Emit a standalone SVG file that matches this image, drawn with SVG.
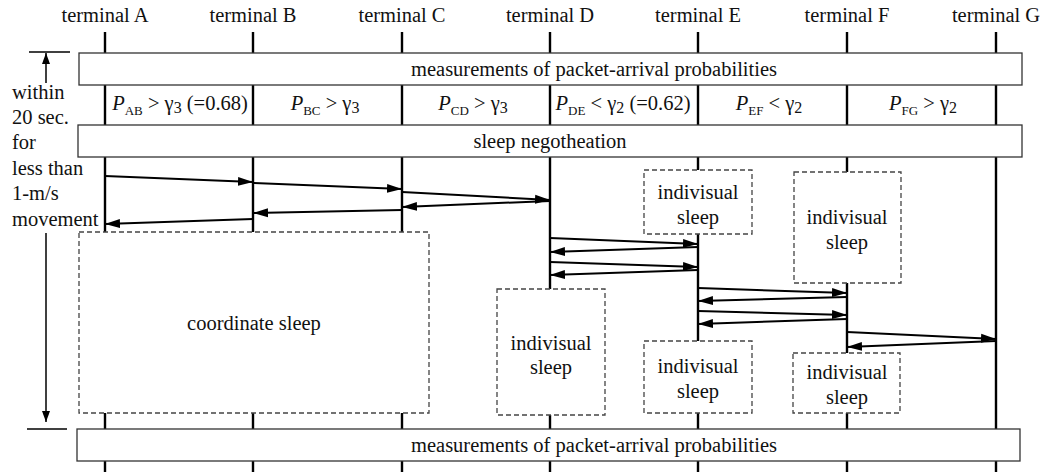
<svg xmlns="http://www.w3.org/2000/svg" width="1043" height="472" viewBox="0 0 1043 472" font-family="'Liberation Serif', 'Times New Roman', serif">
  <style>
    text { font-family: "Liberation Serif", "Times New Roman", serif; font-size: 20.5px; fill: #111; }
    .mid { text-anchor: middle; }
    .lane { stroke: #000; stroke-width: 2.4; fill: none; }
    .band { fill: #fff; stroke: #333; stroke-width: 1.3; }
    .sleep { fill: #fff; stroke: #444; stroke-width: 1.3; stroke-dasharray: 5 3; }
    .msg { stroke: #000; stroke-width: 2; fill: none; marker-end: url(#head); }
    .tick { stroke: #000; stroke-width: 1.3; fill: none; }
    .span { stroke: #000; stroke-width: 1.5; fill: none; marker-end: url(#small); }
    .sub { font-size: 13px; }
    .idx { font-size: 16px; }
  </style>
  <defs>
    <marker id="head" markerUnits="userSpaceOnUse" markerWidth="16" markerHeight="10" refX="15" refY="5" orient="auto">
      <path d="M0,0.5 L15,5 L0,9.5 Z" fill="#000"/>
    </marker>
    <marker id="small" markerUnits="userSpaceOnUse" markerWidth="12" markerHeight="8" refX="11" refY="4" orient="auto">
      <path d="M0,0 L11,4 L0,8 Z" fill="#000"/>
    </marker>
  </defs>

  <!-- terminal lifelines -->
  <g id="terminals">
    <text class="mid" x="105" y="22">terminal A</text>
    <text class="mid" x="253" y="22">terminal B</text>
    <text class="mid" x="402" y="22">terminal C</text>
    <text class="mid" x="550" y="22">terminal D</text>
    <text class="mid" x="698" y="22">terminal E</text>
    <text class="mid" x="847" y="22">terminal F</text>
    <text class="mid" x="996" y="22">terminal G</text>
    <line class="lane" x1="105" y1="32" x2="105" y2="472"/>
    <line class="lane" x1="253" y1="32" x2="253" y2="472"/>
    <line class="lane" x1="402" y1="32" x2="402" y2="472"/>
    <line class="lane" x1="550" y1="32" x2="550" y2="472"/>
    <line class="lane" x1="698" y1="32" x2="698" y2="472"/>
    <line class="lane" x1="847" y1="32" x2="847" y2="472"/>
    <line class="lane" x1="996" y1="32" x2="996" y2="472"/>
  </g>

  <!-- time span on the left -->
  <g id="timespan">
    <line class="tick" x1="29" y1="52" x2="70" y2="52"/>
    <line class="span" x1="46" y1="83" x2="46" y2="53"/>
    <line class="span" x1="46" y1="233" x2="46" y2="422"/>
    <line class="tick" x1="27" y1="429" x2="67" y2="429"/>
    <text x="12" y="99">within</text>
    <text x="12" y="124">20 sec.</text>
    <text x="12" y="149">for</text>
    <text x="12" y="175">less than</text>
    <text x="12" y="200">1-m/s</text>
    <text x="12" y="226">movement</text>
  </g>

  <g id="measure-top">
    <rect class="band" x="79" y="53" width="943" height="32"/>
    <text class="mid" x="594" y="76">measurements of packet-arrival probabilities</text>
  </g>

  <!-- link conditions between neighbouring terminals -->
  <g id="conditions">
    <text class="mid" x="180" y="110"><tspan font-style="italic">P</tspan><tspan class="sub" dy="5">AB</tspan><tspan dy="-5"> &gt; γ</tspan><tspan class="idx" dy="3">3</tspan><tspan dy="-3"> (=0.68)</tspan></text>
    <text class="mid" x="325" y="110"><tspan font-style="italic">P</tspan><tspan class="sub" dy="5">BC</tspan><tspan dy="-5"> &gt; γ</tspan><tspan class="idx" dy="3">3</tspan></text>
    <text class="mid" x="473" y="110"><tspan font-style="italic">P</tspan><tspan class="sub" dy="5">CD</tspan><tspan dy="-5"> &gt; γ</tspan><tspan class="idx" dy="3">3</tspan></text>
    <text class="mid" x="623" y="110"><tspan font-style="italic">P</tspan><tspan class="sub" dy="5">DE</tspan><tspan dy="-5"> &lt; γ</tspan><tspan class="idx" dy="3">2</tspan><tspan dy="-3"> (=0.62)</tspan></text>
    <text class="mid" x="769" y="110"><tspan font-style="italic">P</tspan><tspan class="sub" dy="5">EF</tspan><tspan dy="-5"> &lt; γ</tspan><tspan class="idx" dy="3">2</tspan></text>
    <text class="mid" x="923" y="110"><tspan font-style="italic">P</tspan><tspan class="sub" dy="5">FG</tspan><tspan dy="-5"> &gt; γ</tspan><tspan class="idx" dy="3">2</tspan></text>
  </g>

  <g id="negotiation">
    <rect class="band" x="78" y="125" width="944" height="32"/>
    <text class="mid" x="550" y="148">sleep negotheation</text>
  </g>

  <g id="coordinate-sleep">
    <rect class="sleep" x="79" y="232" width="350" height="181"/>
    <text class="mid" x="254" y="330">coordinate sleep</text>
  </g>

  <g id="sleep-D">
    <rect class="sleep" x="497" y="289" width="108" height="126"/>
    <text class="mid" x="551" y="350">indivisual</text>
    <text class="mid" x="551" y="374">sleep</text>
  </g>

  <g id="sleep-E-top">
    <rect class="sleep" x="644" y="170" width="108" height="64"/>
    <text class="mid" x="698" y="199">indivisual</text>
    <text class="mid" x="698" y="224">sleep</text>
  </g>

  <g id="sleep-E-bottom">
    <rect class="sleep" x="644" y="341" width="108" height="72"/>
    <text class="mid" x="698" y="373">indivisual</text>
    <text class="mid" x="698" y="398">sleep</text>
  </g>

  <g id="sleep-F-top">
    <rect class="sleep" x="794" y="172" width="107" height="111"/>
    <text class="mid" x="847" y="224">indivisual</text>
    <text class="mid" x="847" y="249">sleep</text>
  </g>

  <g id="sleep-F-bottom">
    <rect class="sleep" x="793" y="353" width="107" height="60"/>
    <text class="mid" x="847" y="379">indivisual</text>
    <text class="mid" x="847" y="404">sleep</text>
  </g>

  <g id="measure-bottom">
    <rect class="band" x="77" y="429" width="943" height="32"/>
    <text class="mid" x="594" y="452">measurements of packet-arrival probabilities</text>
  </g>

  <!-- negotiation messages -->
  <g id="connectors">
    <line class="msg" x1="105" y1="176" x2="253" y2="182"/>
    <line class="msg" x1="253" y1="183" x2="402" y2="189"/>
    <line class="msg" x1="402" y1="192" x2="550" y2="200"/>
    <line class="msg" x1="550" y1="201" x2="402" y2="207"/>
    <line class="msg" x1="402" y1="210" x2="253" y2="213"/>
    <line class="msg" x1="253" y1="219" x2="105" y2="224"/>

    <line class="msg" x1="550" y1="238" x2="698" y2="244"/>
    <line class="msg" x1="698" y1="247" x2="550" y2="252"/>
    <line class="msg" x1="550" y1="262" x2="698" y2="267"/>
    <line class="msg" x1="698" y1="270" x2="550" y2="275"/>

    <line class="msg" x1="698" y1="288" x2="847" y2="293"/>
    <line class="msg" x1="847" y1="297" x2="698" y2="301"/>
    <line class="msg" x1="698" y1="311" x2="847" y2="315"/>
    <line class="msg" x1="847" y1="319" x2="698" y2="324"/>

    <line class="msg" x1="847" y1="332" x2="996" y2="339"/>
    <line class="msg" x1="996" y1="341" x2="847" y2="347"/>
  </g>
</svg>
